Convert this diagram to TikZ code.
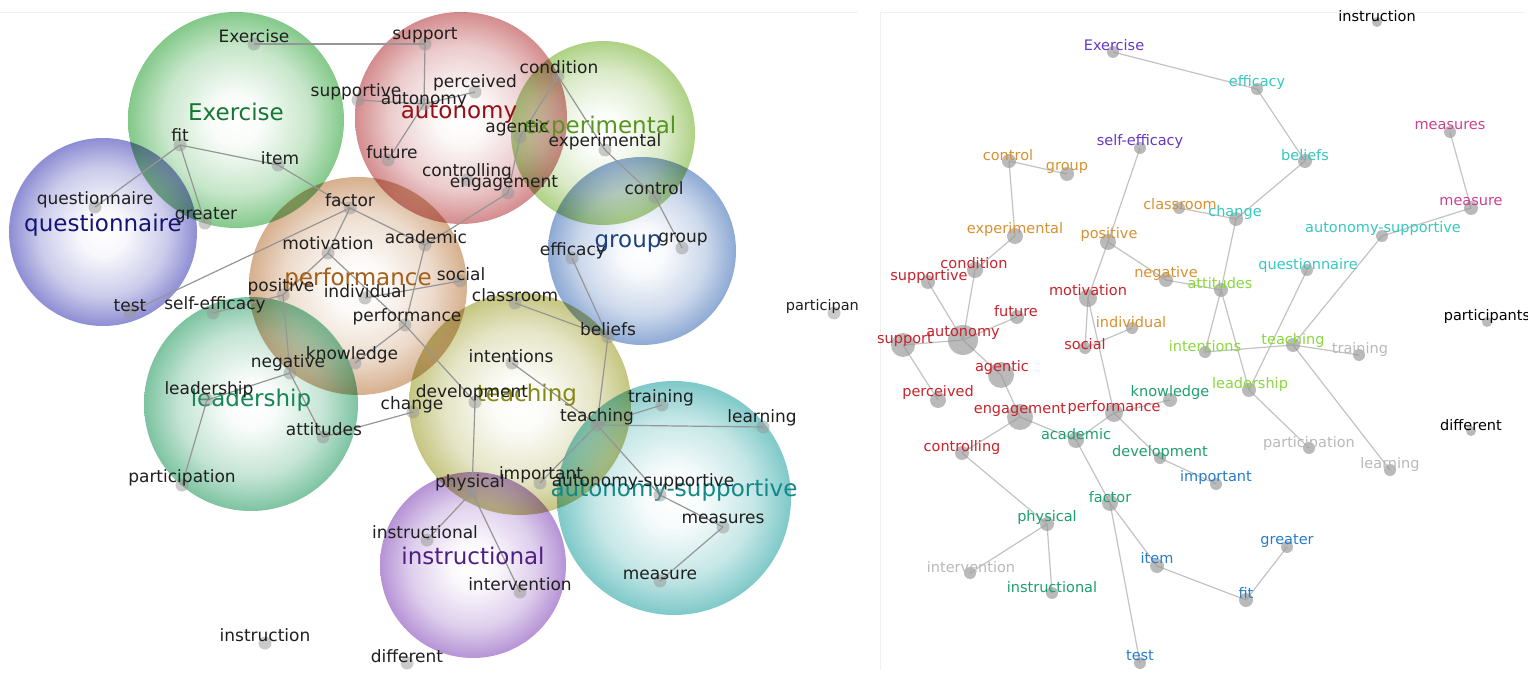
\documentclass[tikz,border=0pt]{standalone}
\usepackage{fontspec}
\setmainfont{DejaVu Sans}
\pgfdeclarelayer{bub}
\pgfdeclarelayer{edg}
\pgfsetlayers{bub,edg,main}
\definecolor{cEx}{RGB}{110,192,118}
\definecolor{cAu}{RGB}{205,120,122}
\definecolor{cXp}{RGB}{160,202,112}
\definecolor{cGr}{RGB}{122,155,205}
\definecolor{cQu}{RGB}{122,122,205}
\definecolor{cPe}{RGB}{208,162,122}
\definecolor{cLe}{RGB}{102,186,145}
\definecolor{cTe}{RGB}{188,188,108}
\definecolor{cAs}{RGB}{105,192,192}
\definecolor{cIn}{RGB}{170,128,207}
\definecolor{tEx}{RGB}{20,120,50}
\definecolor{tAu}{RGB}{150,15,20}
\definecolor{tXp}{RGB}{85,150,30}
\definecolor{tGr}{RGB}{30,65,130}
\definecolor{tQu}{RGB}{20,20,120}
\definecolor{tPe}{RGB}{165,95,25}
\definecolor{tLe}{RGB}{20,135,85}
\definecolor{tTe}{RGB}{135,135,20}
\definecolor{tAs}{RGB}{20,135,135}
\definecolor{tIn}{RGB}{80,30,135}
\definecolor{rpurple}{RGB}{105,55,195}
\definecolor{rcyan}{RGB}{55,200,190}
\definecolor{rpink}{RGB}{205,65,140}
\definecolor{rorange}{RGB}{215,145,50}
\definecolor{rred}{RGB}{200,35,45}
\definecolor{rgreen}{RGB}{140,215,65}
\definecolor{rgray}{RGB}{185,185,185}
\definecolor{rteal}{RGB}{30,160,110}
\definecolor{rblue}{RGB}{40,125,200}
\definecolor{edgegray}{RGB}{150,150,150}
\definecolor{redgegray}{RGB}{195,195,195}
\definecolor{dotgray}{RGB}{150,150,150}
\colorlet{bubcol}{cEx}
\pgfdeclareradialshading[bubcol]{bubshade}{\pgfpointorigin}{color(0bp)=(white); color(6bp)=(white!95!bubcol); color(17bp)=(white!55!bubcol); color(25bp)=(bubcol); color(50bp)=(bubcol)}
\tikzset{
  edge/.style={draw=edgegray, line width=1.2pt},
  redge/.style={draw=redgegray, line width=1.2pt},
  ldot/.style={circle, fill=dotgray, fill opacity=0.5, inner sep=0pt, minimum size=13pt},
  rdot/.style={circle, fill=dotgray, fill opacity=0.65, inner sep=0pt},
  lword/.style={font=\fontsize{17}{17}\selectfont, text=black!88, inner sep=0pt},
  rword/.style={font=\fontsize{14.5}{14.5}\selectfont, inner sep=0pt},
  bigword/.style={font=\fontsize{23}{23}\selectfont, inner sep=0pt},
}
\newcommand\bubble[4]{\colorlet{bubcol}{#1}\shade[shading=bubshade, blend mode=multiply, fill opacity=0.85] (#2,#3) circle[radius=#4pt];}
\newcommand\lw[6]{\node[ldot] (L#1) at (#2,#3) {}; \node[lword] (L#1-t) at (#4,#5) {#6};}
\newcommand\rw[8]{\node[rdot, minimum size=#7pt] (R#1) at (#2,#3) {}; \node[rword, text=#6] (R#1-t) at (#4,#5) {#8};}
\begin{document}
\begin{tikzpicture}[x=1pt,y=-1pt]
\useasboundingbox (0,0) rectangle (1535,679);
\begin{pgfonlayer}{bub}
\fill[white] (0,0) rectangle (1535,679);
\draw[black!6, line width=0.8pt] (0,12) -- (858,12);
\draw[black!6, line width=0.8pt] (880,12) -- (1525,12) (880,12) -- (880,670);
\end{pgfonlayer}
% ---------------- LEFT PANEL ----------------
\begin{scope}
\clip (0,0) rectangle (857,679);
\begin{pgfonlayer}{bub}
\begin{scope}
\clip (0,0) rectangle (857,679);
\bubble{cEx}{236}{120}{108}
\bubble{cAu}{461}{118}{106}
\bubble{cXp}{603}{133}{92}
\bubble{cGr}{642}{251}{94}
\bubble{cQu}{103}{232}{94}
\bubble{cPe}{358}{286}{109}
\bubble{cLe}{251}{404}{107}
\bubble{cTe}{520}{404}{111}
\bubble{cAs}{674}{498}{117}
\bubble{cIn}{473}{565}{93}
\end{scope}
\end{pgfonlayer}
\node[bigword, text=tEx] (B-Exercise) at (236,112) {Exercise};
\node[bigword, text=tAu] (B-autonomy) at (459,113) {autonomy};
\node[bigword, text=tXp] (B-experimental) at (600,127) {experimental};
\node[bigword, text=tGr] (B-group) at (628,243) {group};
\node[bigword, text=tQu] (B-questionnaire) at (103,225) {questionnaire};
\node[bigword, text=tPe] (B-performance) at (358,279) {performance};
\node[bigword, text=tLe] (B-leadership) at (251,400) {leadership};
\node[bigword, text=tTe] (B-teaching) at (527,395) {teaching};
\node[bigword, text=tAs] (B-autsup) at (674,490) {autonomy-supportive};
\node[bigword, text=tIn] (B-instructional) at (473,556) {instructional};
% words
\lw{Exercise}{254}{44}{254}{36}{Exercise}
\lw{support}{425}{44}{425}{35}{support}
\lw{supportive}{358}{100}{356}{92}{supportive}
\lw{perceived}{475}{92}{475}{83}{perceived}
\lw{autonomy}{424}{104}{424}{100}{autonomy}
\lw{condition}{558}{76}{559}{67}{condition}
\lw{agentic}{520}{137}{517}{128}{agentic}
\lw{experimental}{605}{150}{605}{142}{experimental}
\lw{future}{388}{160}{392}{152}{future}
\lw{controlling}{467}{180}{467}{172}{controlling}
\lw{engagement}{508}{193}{504}{183}{engagement}
\lw{control}{655}{197}{654}{188}{control}
\lw{group}{682}{248}{683}{240}{group}
\lw{efficacy}{572}{258}{573}{251}{efficacy}
\lw{classroom}{515}{303}{515}{295}{classroom}
\lw{beliefs}{608}{337}{608}{329}{beliefs}
\lw{academic}{425}{245}{426}{237}{academic}
\lw{social}{460}{281}{461}{274}{social}
\lw{factor}{350}{208}{350}{200}{factor}
\lw{motivation}{328}{253}{328}{243}{motivation}
\lw{positive}{283}{295}{281}{287}{positive}
\lw{individual}{365}{298}{365}{291}{individual}
\lw{performance}{405}{325}{407}{317}{performance}
\lw{knowledge}{355}{363}{352}{355}{knowledge}
\lw{negative}{290}{373}{288}{363}{negative}
\lw{leadership}{207}{400}{209}{390}{leadership}
\lw{attitudes}{323}{437}{324}{429}{attitudes}
\lw{participation}{182}{485}{182}{478}{participation}
\lw{instruction}{265}{643}{265}{635}{instruction}
\lw{different}{407}{663}{407}{656}{different}
\lw{change}{413}{412}{412}{405}{change}
\lw{development}{475}{402}{472}{393}{development}
\lw{intentions}{512}{363}{511}{356}{intentions}
\lw{training}{662}{405}{661}{398}{training}
\lw{teaching}{597}{425}{597}{417}{teaching}
\lw{learning}{763}{427}{762}{418}{learning}
\lw{important}{540}{483}{541}{475}{important}
\lw{autsup}{660}{495}{643}{482}{autonomy-supportive}
\lw{physical}{472}{492}{470}{483}{physical}
\lw{instructional}{427}{540}{425}{532}{instructional}
\lw{intervention}{520}{592}{520}{584}{intervention}
\lw{measures}{723}{527}{723}{519}{measures}
\lw{measure}{660}{581}{660}{575}{measure}
\node[ldot] (Lparticipants) at (834,313) {};
\node[lword, font=\fontsize{14.5}{14.5}\selectfont] (Lparticipants-t) at (829,307) {participants};
\lw{greater}{205}{223}{206}{215}{greater}
\lw{questionnaire}{95}{207}{95}{200}{questionnaire}
\lw{fit}{180}{145}{180}{135}{fit}
\lw{item}{278}{165}{280}{158}{item}
\lw{test}{130}{312}{130}{306}{test}
\lw{selfefficacy}{213}{313}{215}{305}{self-efficacy}
\begin{pgfonlayer}{edg}
\begin{scope}
\clip (0,0) rectangle (857,679);
\foreach \a/\b in {Exercise/support, support/autonomy, autonomy/supportive, autonomy/perceived,
  autonomy/future, condition/experimental, condition/agentic, agentic/engagement,
  engagement/academic, experimental/control, control/group, efficacy/beliefs,
  classroom/beliefs, beliefs/teaching, teaching/training, teaching/learning,
  teaching/autsup, autsup/measures, measures/measure, teaching/important,
  intentions/teaching, development/physical, performance/development,
  physical/instructional, physical/intervention, change/attitudes,
  leadership/negative, negative/attitudes, leadership/participation,
  positive/negative, motivation/positive, performance/knowledge,
  academic/performance, social/individual, motivation/performance,
  selfefficacy/positive, test/factor, item/factor, fit/item,
  fit/questionnaire, fit/greater, factor/motivation, factor/academic}
  \draw[edge] (L\a.center) -- (L\b.center);
\end{scope}
\end{pgfonlayer}
\end{scope}
% ---------------- RIGHT PANEL ----------------
\begin{scope}
\clip (862,9) rectangle (1527,679);
\rw{instruction}{1377}{22}{1377}{16}{black}{10}{instruction}
\rw{Exercise}{1113}{52}{1114}{45}{rpurple}{12}{Exercise}
\rw{efficacy}{1257}{89}{1257}{83}{rcyan}{12}{efficacy}
\rw{selfefficacy}{1140}{148}{1140}{142}{rpurple}{12}{self-efficacy}
\rw{measures}{1450}{132}{1450}{126}{rpink}{12}{measures}
\rw{control}{1009}{161}{1008}{155}{rorange}{14}{control}
\rw{group}{1067}{174}{1067}{168}{rorange}{14}{group}
\rw{beliefs}{1305}{161}{1305}{155}{rcyan}{14}{beliefs}
\rw{classroom}{1179}{208}{1180}{204}{rorange}{12}{classroom}
\rw{change}{1236}{219}{1235}{213}{rcyan}{14}{change}
\rw{measure}{1471}{208}{1471}{202}{rpink}{14}{measure}
\rw{experimental}{1015}{236}{1015}{230}{rorange}{16}{experimental}
\rw{positive}{1108}{242}{1109}{235}{rorange}{16}{positive}
\rw{autsup}{1382}{236}{1383}{229}{rcyan}{12}{autonomy-supportive}
\rw{questionnaire}{1307}{270}{1308}{265}{rcyan}{12}{questionnaire}
\rw{negative}{1166}{280}{1166}{273}{rorange}{14}{negative}
\rw{attitudes}{1221}{290}{1220}{283}{rgreen}{14}{attitudes}
\rw{condition}{975}{270}{974}{263}{rred}{16}{condition}
\rw{supportive}{928}{282}{929}{276}{rred}{14}{supportive}
\rw{motivation}{1088}{298}{1088}{290}{rred}{18}{motivation}
\rw{future}{1017}{317}{1016}{311}{rred}{14}{future}
\rw{individual}{1132}{328}{1131}{322}{rorange}{12}{individual}
\rw{participants}{1487}{322}{1487}{316}{black}{10}{participants}
\rw{autonomy}{963}{340}{963}{333}{rred}{30}{autonomy}
\rw{support}{903}{345}{905}{340}{rred}{24}{support}
\rw{social}{1085}{348}{1085}{344}{rred}{12}{social}
\rw{intentions}{1205}{352}{1205}{346}{rgreen}{12}{intentions}
\rw{teaching}{1293}{345}{1293}{340}{rgreen}{14}{teaching}
\rw{training}{1359}{355}{1360}{349}{rgray}{12}{training}
\rw{agentic}{1001}{375}{1002}{367}{rred}{26}{agentic}
\rw{leadership}{1249}{390}{1250}{384}{rgreen}{14}{leadership}
\rw{knowledge}{1170}{400}{1170}{392}{rteal}{14}{knowledge}
\rw{perceived}{938}{400}{938}{392}{rred}{16}{perceived}
\rw{engagement}{1020}{417}{1020}{410}{rred}{26}{engagement}
\rw{performance}{1114}{413}{1114}{407}{rred}{18}{performance}
\rw{academic}{1076}{440}{1076}{434}{rteal}{16}{academic}
\rw{development}{1160}{458}{1160}{452}{rteal}{12}{development}
\rw{controlling}{962}{453}{962}{447}{rred}{14}{controlling}
\rw{participation}{1309}{448}{1309}{443}{rgray}{12}{participation}
\rw{learning}{1390}{470}{1390}{464}{rgray}{12}{learning}
\rw{important}{1216}{484}{1216}{477}{rblue}{12}{important}
\rw{factor}{1110}{503}{1110}{497}{rteal}{16}{factor}
\rw{different}{1471}{431}{1471}{425}{black}{10}{different}
\rw{physical}{1047}{524}{1047}{517}{rteal}{14}{physical}
\rw{greater}{1287}{547}{1287}{541}{rblue}{12}{greater}
\rw{item}{1157}{566}{1157}{558}{rblue}{14}{item}
\rw{intervention}{970}{573}{971}{567}{rgray}{12}{intervention}
\rw{instructional}{1052}{593}{1052}{587}{rteal}{12}{instructional}
\rw{fit}{1246}{600}{1246}{593}{rblue}{14}{fit}
\rw{test}{1140}{663}{1140}{656}{rblue}{12}{test}
\begin{pgfonlayer}{edg}
\begin{scope}
\foreach \a/\b in {Exercise/efficacy, efficacy/beliefs, beliefs/change, classroom/change,
  change/attitudes, measures/measure, measure/autsup, autsup/teaching,
  questionnaire/leadership, attitudes/intentions, attitudes/leadership,
  negative/attitudes, positive/negative, selfefficacy/positive, positive/motivation,
  motivation/social, motivation/performance, social/individual, intentions/teaching,
  teaching/training, teaching/learning, leadership/participation,
  performance/knowledge, performance/development, performance/academic,
  development/important, engagement/academic, engagement/agentic,
  engagement/controlling, agentic/autonomy, autonomy/support, autonomy/supportive,
  autonomy/condition, autonomy/future, support/perceived, condition/experimental,
  experimental/control, control/group, academic/factor, factor/test, factor/item,
  item/fit, fit/greater, controlling/physical, physical/intervention,
  physical/instructional}
  \draw[redge] (R\a.center) -- (R\b.center);
\end{scope}
\end{pgfonlayer}
\end{scope}
\end{tikzpicture}
\end{document}
